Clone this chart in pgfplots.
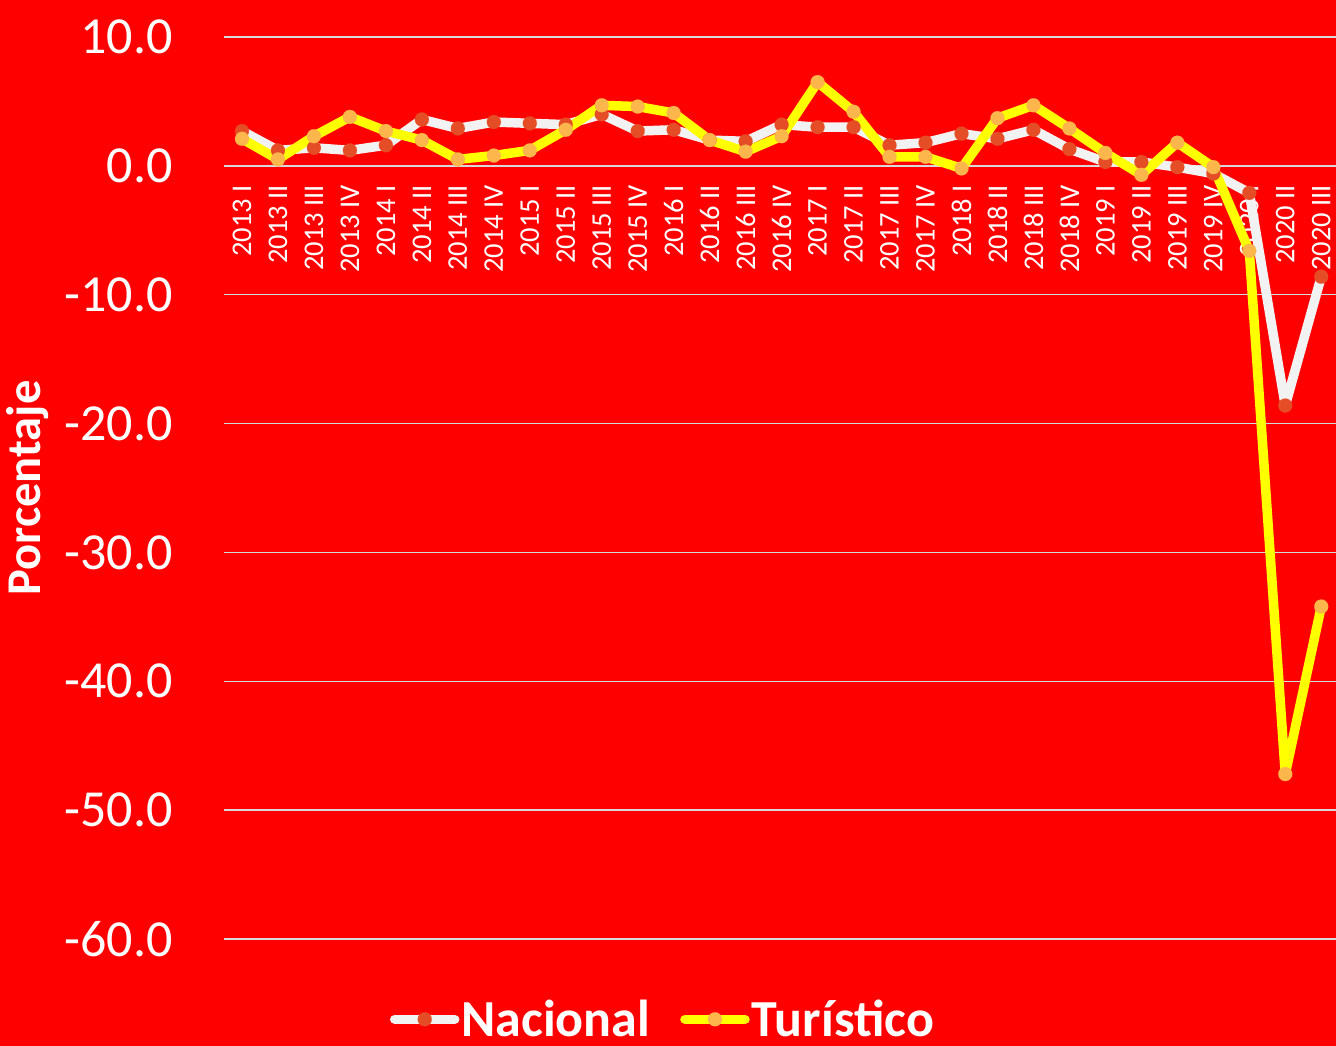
\documentclass[border=0pt]{standalone}
\usepackage{fontspec}
\setmainfont{Carlito}
\usepackage{pgfplots}
\pgfplotsset{compat=1.18}
\definecolor{bgred}{HTML}{FF0000}
\definecolor{gridc}{HTML}{D9D9D9}
\definecolor{nacline}{HTML}{F2F2F2}
\definecolor{nacmark}{HTML}{E54D26}
\definecolor{turline}{HTML}{FFFF00}
\definecolor{turmark}{HTML}{FDB64C}
\begin{document}
\begin{tikzpicture}
\fill[bgred] (0,0) rectangle (1336bp,1046bp);
\begin{axis}[
  at={(224bp,107bp)}, anchor=south west,
  width=1112bp, height=902bp, scale only axis,
  xmin=-0.5, xmax=30.41, ymin=-60, ymax=10,
  axis x line=middle, axis y line=left,
  axis line style={-},
  x axis line style={draw=gridc, line width=1.5bp, -},
  y axis line style={draw=none},
  hide obscured y ticks=false,
  ytick={-60,-50,...,10},
  xtick={0,...,30},
  xticklabels={2013 I,2013 II,2013 III,2013 IV,2014 I,2014 II,2014 III,2014 IV,2015 I,2015 II,2015 III,2015 IV,2016 I,2016 II,2016 III,2016 IV,2017 I,2017 II,2017 III,2017 IV,2018 I,2018 II,2018 III,2018 IV,2019 I,2019 II,2019 III,2019 IV,2020 I,2020 II,2020 III},
  major tick length=0pt,
  ymajorgrids, grid style={gridc, line width=1.5bp},
  yticklabel style={font=\fontsize{52bp}{60bp}\selectfont, text=white, inner sep=0pt, anchor=east, xshift=-51bp,
    /pgf/number format/fixed, /pgf/number format/fixed zerofill, /pgf/number format/precision=1, /pgf/number format/assume math mode=true},
  xticklabel style={font=\fontsize{28.5bp}{32bp}\selectfont, text=white, rotate=90, anchor=east, inner sep=0pt},
  xticklabel shift=19bp,
  ylabel={Porcentaje},
  ylabel style={at={(axis description cs:-0.1763,0.5)}, anchor=center, font=\bfseries\fontsize{48.5bp}{56bp}\selectfont, text=white},
  legend style={at={(axis description cs:0.3948,-0.089)}, anchor=center, draw=none, fill=none,
    font=\bfseries\fontsize{52bp}{60bp}\selectfont, text=white, legend columns=2,
    nodes={inner sep=2bp},
    /tikz/every even column/.append style={column sep=28bp}},
  legend image code/.code={\draw[mark repeat=2, mark phase=2, #1] plot coordinates {(0bp,0bp) (30bp,0bp) (60bp,0bp)};},
  clip=false,
]
\addplot[color=nacline, line width=9.5bp, line join=round, line cap=round, mark=*, mark size=7bp, mark options={line width=0.1bp, draw=nacmark, fill=nacmark}]
coordinates {
(0,2.7) (1,1.2) (2,1.4) (3,1.2) (4,1.6) (5,3.6) (6,2.9) (7,3.4) (8,3.3) (9,3.2)
(10,4.0) (11,2.7) (12,2.8) (13,2.0) (14,1.9) (15,3.2) (16,3.0) (17,3.0) (18,1.6) (19,1.8)
(20,2.5) (21,2.1) (22,2.8) (23,1.3) (24,0.3) (25,0.3) (26,-0.1) (27,-0.6) (28,-2.1) (29,-18.6) (30,-8.6)
};
\addlegendentry{Nacional}
\addplot[color=turline, line width=9.5bp, line join=round, line cap=round, mark=*, mark size=7bp, mark options={line width=0.1bp, draw=turmark, fill=turmark}]
coordinates {
(0,2.1) (1,0.5) (2,2.3) (3,3.8) (4,2.7) (5,2.0) (6,0.5) (7,0.8) (8,1.2) (9,2.8)
(10,4.7) (11,4.6) (12,4.1) (13,2.0) (14,1.1) (15,2.3) (16,6.5) (17,4.2) (18,0.7) (19,0.7)
(20,-0.2) (21,3.7) (22,4.7) (23,2.9) (24,1.0) (25,-0.7) (26,1.8) (27,-0.1) (28,-6.6) (29,-47.2) (30,-34.2)
};
\addlegendentry{Turístico}
\end{axis}
\pgfresetboundingbox
\path[use as bounding box] (0,0) rectangle (1336bp,1046bp);
\end{tikzpicture}
\end{document}
